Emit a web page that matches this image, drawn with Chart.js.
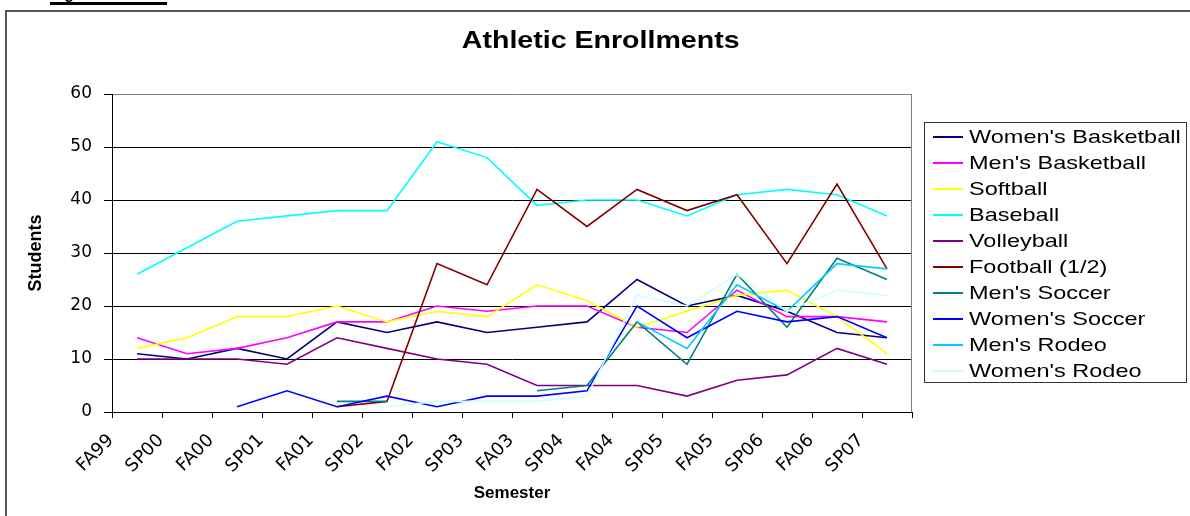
<!DOCTYPE html>
<html>
<head>
<meta charset="utf-8">
<title>Athletic Enrollments</title>
<script src="https://cdn.jsdelivr.net/npm/chart.js@4.4.0/dist/chart.umd.min.js"></script>
<style>
    html, body { margin: 0; padding: 0; background: #fff; overflow: hidden; }
    #wrap { position: relative; width: 1190px; height: 516px; overflow: hidden; }
    #chart { position: absolute; left: 0; top: 0; }
    #frame { position: absolute; left: 5px; top: 10px; width: 1400px; height: 700px; border: 2px solid #555; }
    #fig { position: absolute; left: 50px; top: -15px; width: 117px; font: bold 16px Arial, "Liberation Sans", sans-serif; line-height: 17px; border-bottom: 3px solid #000; }
    #title { position: absolute; left: 0; top: 26px; width: 1202px; text-align: center; font: bold 24px Arial, "Liberation Sans", sans-serif; line-height: 28px; }
    #title span { display: inline-block; transform: scaleX(1.19); }
    #legend { position: absolute; left: 924px; top: 122px; width: 263px; height: 261px; border: 1px solid #333; box-sizing: border-box; background: #fff; }
    .item { position: absolute; left: 0; width: 100%; height: 26px; }
    .item i { position: absolute; left: 8px; top: 12px; width: 30px; height: 0; border-top: 2px solid; }
    .item span { position: absolute; left: 44px; top: 0; font: 18.5px Arial, "Liberation Sans", sans-serif; line-height: 26px; white-space: nowrap; transform: scaleX(1.27); transform-origin: 0 50%; }
</style>
</head>
<body>
<div id="wrap">
    <canvas id="chart" width="1190" height="516"></canvas>
    <div id="frame"></div>
    <div id="fig">Figure 1</div>
    <div id="title"><span>Athletic Enrollments</span></div>
    <div id="legend"></div>
</div>
<script>
// semesters on the x axis
const semesters = ['FA99', 'SP00', 'FA00', 'SP01', 'FA01', 'SP02', 'FA02', 'SP03',
                   'FA03', 'SP04', 'FA04', 'SP05', 'FA05', 'SP06', 'FA06', 'SP07'];

// students per team (null = no team that semester)
const womensBasketball = [11, 10, 12, 10, 17, 15, 17, 15, 16, 17, 25, 20, 22, 19, 15, 14];
const mensBasketball   = [14, 11, 12, 14, 17, 17, 20, 19, 20, 20, 16, 15, 23, 18, 18, 17];
const softball         = [12, 14, 18, 18, 20, 17, 19, 18, 24, 21, 16, 19, 22, 23, 18, 11];
const baseball         = [26, 31, 36, 37, 38, 38, 51, 48, 39, 40, 40, 37, 41, 42, 41, 37];
const volleyball       = [10, 10, 10, 9, 14, 12, 10, 9, 5, 5, 5, 3, 6, 7, 12, 9];
const football         = [null, null, null, null, 1, 2, 28, 24, 42, 35, 42, 38, 41, 28, 43, 27];
const mensSoccer       = [null, null, null, null, 2, 2, null, null, 4, 5, 17, 9, 26, 16, 29, 25];
const womensSoccer     = [null, null, 1, 4, 1, 3, 1, 3, 3, 4, 20, 14, 19, 17, 18, 14];
const mensRodeo        = [null, null, null, null, null, null, null, null, null, null, 17, 12, 24, 19, 28, 27];
const womensRodeo      = [null, null, null, null, null, 1, 2, 2, 2, 3, 22, 20, 26, 19, 23, 22];

const seriesNames = ["Women's Basketball", "Men's Basketball", 'Softball', 'Baseball', 'Volleyball',
                     'Football (1/2)', "Men's Soccer", "Women's Soccer", "Men's Rodeo", "Women's Rodeo"];
const seriesColors = ['#000080', '#ff00ff', '#ffff00', '#00ffff', '#800080',
                      '#800000', '#008080', '#0000ff', '#00ccff', '#ccffff'];
const seriesData = [womensBasketball, mensBasketball, softball, baseball, volleyball,
                    football, mensSoccer, womensSoccer, mensRodeo, womensRodeo];

const yTicks = { min: 0, max: 60, step: 10 };

const datasets = seriesNames.map(function (name, i) {
    return {
        label: name,
        data: seriesData[i],
        borderColor: seriesColors[i],
        backgroundColor: seriesColors[i],
        borderWidth: 1.6,
        pointRadius: 0,
        pointHoverRadius: 0,
        tension: 0,
        fill: false,
        spanGaps: false,
        order: -i // later series on top, like the original
    };
});

// grey right edge of the plot area
const plotFrame = {
    id: 'plotFrame',
    afterDatasetsDraw(chart) {
        const { ctx, chartArea } = chart;
        ctx.save();
        ctx.strokeStyle = '#808080';
        ctx.lineWidth = 1;
        ctx.beginPath();
        ctx.moveTo(chartArea.right - 0.5, chartArea.top);
        ctx.lineTo(chartArea.right - 0.5, chartArea.bottom);
        ctx.stroke();
        ctx.restore();
    }
};

new Chart(document.getElementById('chart').getContext('2d'), {
    type: 'line',
    data: { labels: semesters, datasets: datasets },
    options: {
        responsive: false,
        animation: false,
        devicePixelRatio: 1,
        layout: { padding: { left: 20, right: 278, top: 94, bottom: 12 } },
        plugins: {
            legend: { display: false },
            title: { display: false },
            tooltip: { enabled: false }
        },
        scales: {
            x: {
                type: 'category',
                offset: true,
                grid: { offset: true, drawOnChartArea: false, drawTicks: true, tickLength: 6, color: '#000', tickColor: '#000' },
                border: { display: true, color: '#000', width: 1 },
                ticks: {
                    autoSkip: false,
                    minRotation: 45,
                    maxRotation: 45,
                    labelOffset: -26,
                    padding: 12,
                    color: '#000',
                    font: { family: 'DejaVu Sans', size: 18 }
                },
                title: {
                    display: true,
                    text: 'Semester',
                    color: '#000',
                    font: { family: 'Arial, "Liberation Sans", sans-serif', size: 17, weight: 'bold' },
                    padding: { top: 0, bottom: 0 }
                },
                afterFit: function (scale) { scale.height = 92; }
            },
            y: {
                min: yTicks.min,
                max: yTicks.max,
                grid: {
                    color: function (c) { return c.tick && c.tick.value === yTicks.max ? '#808080' : '#000'; },
                    tickColor: '#000',
                    tickLength: 8,
                    lineWidth: 1
                },
                border: { display: true, color: '#000', width: 1 },
                ticks: {
                    stepSize: yTicks.step,
                    padding: 12,
                    color: '#000',
                    font: { family: 'DejaVu Sans', size: 17 }
                },
                title: {
                    display: true,
                    text: 'Students',
                    color: '#000',
                    font: { family: 'Arial, "Liberation Sans", sans-serif', size: 18, weight: 'bold' },
                    padding: { top: 5, bottom: 0 }
                },
                afterFit: function (scale) { scale.width = 92; }
            }
        }
    },
    plugins: [plotFrame]
});

// legend box on the right, one row per series
const legend = document.getElementById('legend');
seriesNames.forEach(function (name, i) {
    const row = document.createElement('div');
    row.className = 'item';
    row.style.top = (1 + 26 * i) + 'px';
    const line = document.createElement('i');
    line.style.borderTopColor = seriesColors[i];
    const text = document.createElement('span');
    text.textContent = name;
    row.appendChild(line);
    row.appendChild(text);
    legend.appendChild(row);
});
</script>
</body>
</html>
